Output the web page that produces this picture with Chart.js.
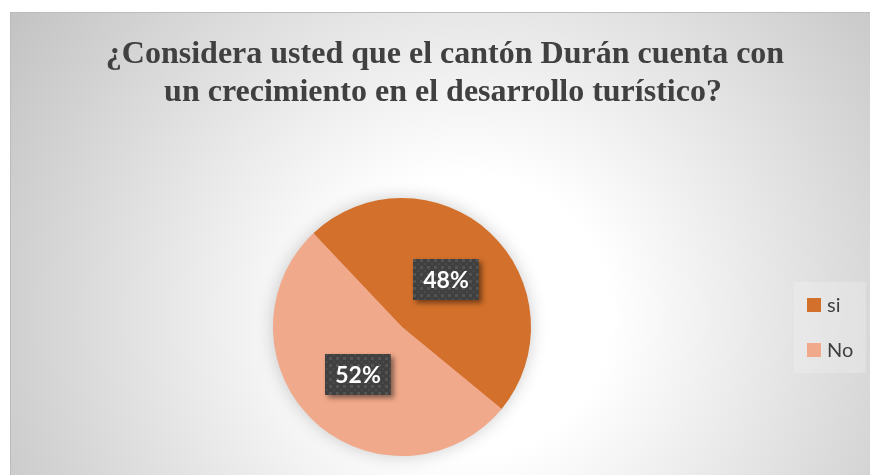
<!DOCTYPE html>
<html><head><meta charset="utf-8">
<script src="https://cdn.jsdelivr.net/npm/chart.js@4"></script>
<style>html,body{margin:0;padding:0;background:#fff}#wrap{width:870px;height:475px;position:relative}</style>
</head><body><div id="wrap"><canvas id="c" width="870" height="475"></canvas></div>
<script>
const titleLines = ['¿Considera usted que el cantón Durán cuenta con', 'un crecimiento en el desarrollo turístico?'];
const categories = ['si', 'No'];
const values = [48, 52];
const percentLabels = ['48%', '52%'];
const colors = ['#D3702B', '#F1A98B'];

function makePattern(ctx) {
  const t = document.createElement('canvas');
  t.width = 7; t.height = 7;
  const g = t.getContext('2d');
  g.fillStyle = '#404040'; g.fillRect(0, 0, 7, 7);
  g.fillStyle = '#535353'; g.fillRect(0, 0, 3, 3);
  g.fillStyle = '#4a4a4a'; g.fillRect(4, 4, 2, 2);
  return ctx.createPattern(t, 'repeat');
}

const bgPlugin = {
  id: 'bg',
  beforeDraw(chart) {
    const ctx = chart.ctx;
    ctx.save();
    ctx.fillStyle = '#ffffff';
    ctx.fillRect(0, 0, chart.width, chart.height);
    const gr = ctx.createRadialGradient(470, 315, 140, 470, 315, 560);
    gr.addColorStop(0, '#ffffff');
    gr.addColorStop(1, '#c1c1c1');
    ctx.fillStyle = gr;
    ctx.fillRect(10, 12, 860, 463);
    ctx.strokeStyle = '#bcbcbc';
    ctx.lineWidth = 1;
    ctx.beginPath();
    ctx.moveTo(10, 12.5); ctx.lineTo(870, 12.5);
    ctx.moveTo(10.5, 12); ctx.lineTo(10.5, 475);
    ctx.stroke();
    ctx.fillStyle = '#404040';
    ctx.font = 'bold 32px "Liberation Serif", "Times New Roman", serif';
    ctx.textAlign = 'center';
    ctx.textBaseline = 'alphabetic';
    ctx.fillText(titleLines[0], 445, 63);
    ctx.fillText(titleLines[1], 443, 101);
    ctx.restore();
  },
  beforeDatasetsDraw(chart) {
    const arc = chart.getDatasetMeta(0).data[0];
    const ctx = chart.ctx;
    ctx.save();
    ctx.shadowColor = 'rgba(0,0,0,0.22)';
    ctx.shadowBlur = 18;
    ctx.fillStyle = colors[1];
    ctx.beginPath();
    ctx.arc(arc.x, arc.y, arc.outerRadius - 1, 0, Math.PI * 2);
    ctx.fill();
    ctx.restore();
  },
  afterDatasetsDraw(chart) {
    const ctx = chart.ctx;
    const pat = makePattern(ctx);
    const meta = chart.getDatasetMeta(0);
    meta.data.forEach((arc, i) => {
      const p = arc.tooltipPosition();
      ctx.save();
      ctx.font = 'bold 23px Lato, "Open Sans", sans-serif';
      const w = Math.max(64, ctx.measureText(percentLabels[i]).width + 20);
      const h = 41;
      const x = Math.round(p.x - w / 2), y = Math.round(p.y - h / 2);
      ctx.shadowColor = 'rgba(0,0,0,0.45)';
      ctx.shadowBlur = 5;
      ctx.shadowOffsetX = 3;
      ctx.shadowOffsetY = 3;
      ctx.fillStyle = '#404040';
      ctx.fillRect(x, y, w, h);
      ctx.shadowColor = 'transparent';
      ctx.fillStyle = pat;
      ctx.fillRect(x, y, w, h);
      ctx.fillStyle = '#ffffff';
      ctx.textAlign = 'center';
      ctx.textBaseline = 'middle';
      ctx.fillText(percentLabels[i], p.x, p.y + 1);
      ctx.restore();
    });
  },
  afterDraw(chart) {
    const ctx = chart.ctx;
    ctx.save();
    ctx.fillStyle = 'rgba(245,245,245,0.3)';
    ctx.fillRect(794, 282, 72, 91);
    ctx.font = '20px Lato, "Open Sans", sans-serif';
    ctx.textBaseline = 'middle';
    categories.forEach((c, i) => {
      const cy = 305 + i * 45;
      ctx.fillStyle = colors[i];
      ctx.fillRect(807, cy - 7, 14, 14);
      ctx.fillStyle = '#404040';
      ctx.fillText(c, 827, cy + 1);
    });
    ctx.restore();
  }
};

new Chart(document.getElementById('c'), {
  type: 'pie',
  data: {
    labels: categories,
    datasets: [{ data: values, backgroundColor: colors, borderWidth: 0, hoverOffset: 0 }]
  },
  options: {
    responsive: false,
    animation: false,
    rotation: -43.4,
    layout: { padding: { left: 273, right: 339, top: 198, bottom: 19 } },
    plugins: { legend: { display: false }, title: { display: false }, tooltip: { enabled: false } },
    events: []
  },
  plugins: [bgPlugin]
});
</script>
</body></html>
